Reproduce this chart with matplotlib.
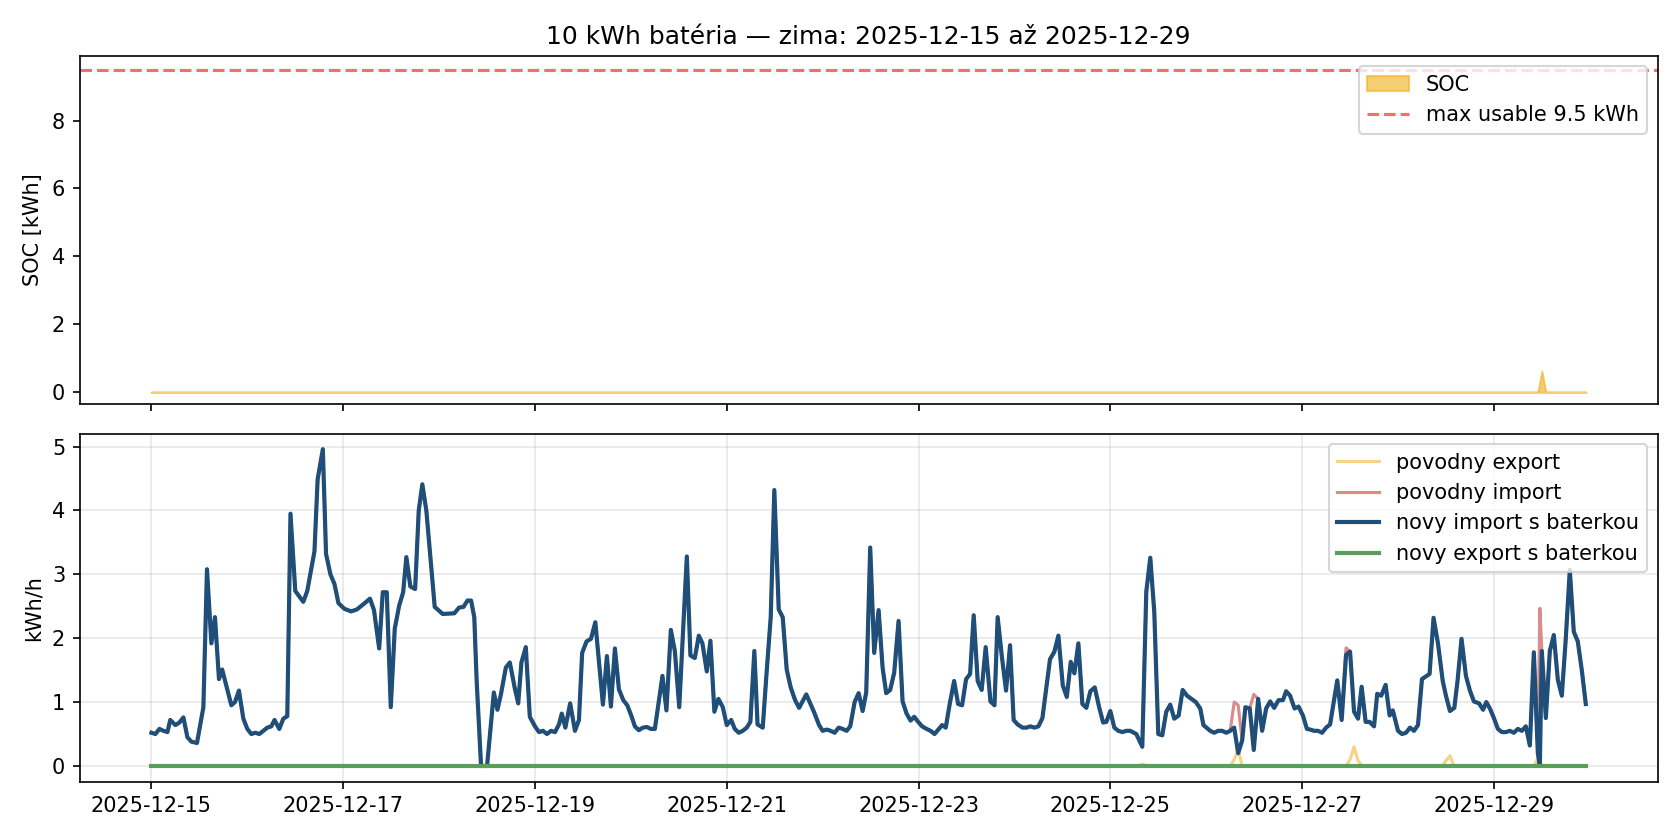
import matplotlib
matplotlib.use('Agg')
import numpy as np
import pandas as pd
import matplotlib.pyplot as plt
import matplotlib.dates as mdates

start = pd.Timestamp('2025-12-15 00:00')

# novy import s baterkou: (hour from start, kWh/h)
imp_h = [0, 1, 2, 3, 4, 4.7, 6, 7, 8, 9, 10, 11.4, 13, 13.9, 15, 15.9, 16.9, 17.7, 20, 20.9, 21.9, 23,
         24, 25, 26, 27, 28, 29, 30, 30.8, 32, 33, 34, 34.8, 36, 38, 39, 40.8, 41.6, 42.9, 43.7, 44.8,
         45.8, 46.8, 48.3, 50, 51.4, 53.2, 54.7, 55.7, 57, 57.9, 58.9, 59.9, 60.9, 62, 63, 63.8, 64.8,
         66, 66.9, 67.8, 68.8, 70.9, 72.9, 75.8, 77, 78.1, 79.1, 80, 80.8, 81.4, 82.5, 84, 85.7, 86.6,
         87.5, 88.7, 89.7, 90.9, 91.8, 92.6, 93.7, 94.7, 96, 97, 98, 99, 100, 101, 102, 102.7, 103.6,
         104.8, 106, 107, 107.8, 108.9, 110, 111.1, 113, 114, 115, 116, 117, 118.1, 119.1, 120.2, 121,
         122, 123, 124, 125, 126, 127.9, 128.9, 130, 131, 132.1, 134, 134.9, 136, 137, 137.9, 139,
         139.9, 140.9, 141.9, 143, 144, 145.1, 146, 147, 148, 149, 149.9, 150.9, 151.7, 153, 154, 155,
         155.9, 157, 158, 159, 160, 161.1, 162.1, 163.9, 165.8, 167.1, 168, 169, 170, 171, 172, 173,
         174, 174.9, 176, 177, 178, 178.9, 179.9, 180.9, 182, 183, 183.9, 184.9, 185.9, 187, 188, 189,
         190, 190.9, 191.9, 192.9, 194, 195, 196, 197.9, 198.8, 199.8, 200.9, 201.9, 202.9, 203.9,
         204.9, 205.8, 206.8, 207.8, 208.8, 210, 211, 211.8, 212.8, 213.9, 214.9, 215.8, 216.8, 218,
         219, 220, 221, 222, 223, 224.9, 226, 227, 228.1, 229.1, 230.1, 231, 232, 233, 234, 235, 236.1,
         237.2, 238.2, 239, 240, 241, 242, 243, 244, 245, 246.5, 248, 249, 250, 251, 252, 253, 254,
         255, 256, 257.1, 258.1, 259.2, 260.3, 261.4, 262.5, 263.3, 265, 266, 267, 268, 269, 270, 271,
         272, 273, 273.8, 274.9, 275.9, 277, 278, 279, 280, 281, 282.1, 283.2, 284, 285, 286.1, 287.1,
         288.2, 289.2, 290, 291, 292, 293, 294, 295, 296.8, 297.9, 299, 300, 301, 302, 302.9, 303.9,
         304.9, 306, 306.8, 307.8, 308.9, 309.9, 310.7, 311.7, 312, 313, 314, 315, 316, 317, 318,
         319.9, 320.9, 322, 323.2, 324, 325, 326.1, 326.9, 327.9, 329, 330, 331, 332.3, 333.3, 334.1,
         335, 336, 337, 338, 339, 340, 341, 342, 343, 344, 345, 346, 347, 347.5, 348, 349, 350, 351,
         352, 353, 354, 355, 356, 357, 358, 359]
imp_v = [0.52, 0.5, 0.58, 0.55, 0.53, 0.72, 0.64, 0.68, 0.76, 0.45, 0.38, 0.36, 0.92, 3.08, 1.92,
         2.33, 1.36, 1.51, 0.95, 1.0, 1.18, 0.74, 0.58, 0.5, 0.52, 0.5, 0.55, 0.6, 0.62, 0.72, 0.58,
         0.74, 0.78, 3.95, 2.74, 2.57, 2.74, 3.36, 4.49, 4.96, 3.32, 3.0, 2.85, 2.55, 2.46, 2.42, 2.45,
         2.54, 2.62, 2.44, 1.84, 2.72, 2.72, 0.92, 2.15, 2.51, 2.72, 3.27, 2.81, 2.77, 4.0, 4.41, 4.0,
         2.49, 2.38, 2.39, 2.48, 2.49, 2.59, 2.59, 2.33, 1.33, 0.0, 0.0, 1.15, 0.88, 1.13, 1.54, 1.62,
         1.23, 0.98, 1.62, 1.86, 0.77, 0.62, 0.53, 0.55, 0.5, 0.55, 0.53, 0.65, 0.82, 0.6, 0.98, 0.55,
         0.72, 1.77, 1.95, 1.99, 2.25, 0.96, 1.72, 0.93, 1.84, 1.2, 1.03, 0.95, 0.77, 0.62, 0.56, 0.6,
         0.61, 0.58, 0.58, 1.41, 0.87, 2.13, 1.8, 0.92, 3.28, 1.73, 1.69, 2.04, 1.92, 1.48, 1.96, 0.85,
         1.05, 0.92, 0.64, 0.72, 0.58, 0.52, 0.55, 0.6, 0.69, 1.8, 0.65, 0.6, 1.49, 2.33, 4.32, 2.45,
         2.33, 1.51, 1.23, 1.03, 0.91, 1.12, 0.85, 0.64, 0.55, 0.57, 0.55, 0.52, 0.6, 0.58, 0.55, 0.62,
         1.0, 1.14, 0.86, 1.15, 3.42, 1.77, 2.44, 1.54, 1.14, 1.19, 1.46, 2.27, 1.01, 0.82, 0.71, 0.77,
         0.69, 0.62, 0.58, 0.55, 0.5, 0.64, 0.6, 0.97, 1.33, 0.97, 0.95, 1.36, 1.44, 2.36, 1.33, 1.19,
         1.86, 1.01, 0.95, 2.33, 1.74, 1.18, 1.89, 0.72, 0.65, 0.6, 0.6, 0.62, 0.6, 0.62, 0.75, 1.67,
         1.79, 2.04, 1.26, 1.08, 1.63, 1.45, 1.92, 0.97, 0.91, 1.17, 1.23, 0.92, 0.68, 0.69, 0.86, 0.6,
         0.55, 0.53, 0.55, 0.55, 0.5, 0.3, 2.73, 3.26, 2.41, 0.5, 0.48, 0.85, 0.96, 0.74, 0.79, 1.19,
         1.1, 1.05, 1.0, 0.9, 0.64, 0.55, 0.52, 0.55, 0.55, 0.52, 0.55, 0.6, 0.2, 0.4, 0.92, 0.9, 0.25,
         1.05, 0.55, 0.9, 1.01, 0.91, 1.03, 1.03, 1.17, 1.1, 0.9, 0.93, 0.79, 0.58, 0.57, 0.55, 0.55,
         0.52, 0.6, 0.65, 1.34, 0.72, 1.74, 1.79, 0.85, 0.74, 1.24, 0.69, 0.69, 0.62, 1.13, 1.1, 1.27,
         0.79, 0.87, 0.62, 0.55, 0.5, 0.52, 0.6, 0.55, 0.64, 1.36, 1.44, 2.32, 1.92, 1.33, 1.1, 0.86,
         0.91, 1.33, 1.99, 1.41, 1.18, 1.01, 0.98, 0.88, 1.0, 0.9, 0.75, 0.58, 0.53, 0.53, 0.55, 0.52,
         0.58, 0.55, 0.62, 0.32, 1.78, 0.2, 0.0, 1.8, 0.75, 1.8, 2.05, 1.35, 1.1, 2.0, 3.07, 2.1, 1.95,
         1.5, 0.97]

# povodny import differs only at a few hours (where the battery covered the load)
orig_imp_extra = {271: 1.0, 272: 0.95, 275.9: 1.12, 299: 1.85, 347.5: 2.47}

# povodny export (small midday surpluses)
exp_h = [0, 247, 248, 249, 270, 271, 272, 273, 299, 300, 301, 302, 303, 323, 324, 325, 326, 346,
         347, 348, 359]
exp_v = [0, 0, 0.03, 0, 0, 0.1, 0.25, 0, 0, 0.1, 0.3, 0.08, 0, 0, 0.08, 0.16, 0, 0, 0.12, 0, 0]

# SOC of the battery
soc_h = [0, 347, 348, 349, 359]
soc_v = [0, 0, 0.62, 0, 0]

imp_t = start + pd.to_timedelta(imp_h, unit='h')
orig_imp = [orig_imp_extra.get(h, v) for h, v in zip(imp_h, imp_v)]
exp_t = start + pd.to_timedelta(exp_h, unit='h')
soc_t = start + pd.to_timedelta(soc_h, unit='h')

fig, (ax1, ax2) = plt.subplots(2, 1, figsize=(11.2, 5.6), sharex=True)

ax1.fill_between(soc_t, soc_v, color='#f0b429', alpha=0.65, label='SOC')
ax1.axhline(9.5, color='#f07070', linestyle='--', linewidth=1.5, label='max usable 9.5 kWh')
ax1.set_ylabel('SOC [kWh]')
ax1.set_ylim(-0.35, 9.9)
ax1.set_yticks([0, 2, 4, 6, 8])
ax1.legend(loc='upper right')
ax1.set_title('10 kWh batéria — zima: 2025-12-15 až 2025-12-29', fontsize=12)

ax2.plot(exp_t, exp_v, color='#f9d28a', linewidth=1.5, label='povodny export')
ax2.plot(imp_t, orig_imp, color='#d98c8c', linewidth=1.5, label='povodny import')
ax2.plot(imp_t, imp_v, color='#1f4e79', linewidth=2, label='novy import s baterkou')
ax2.plot(imp_t, np.zeros(len(imp_t)), color='#5a9e5a', linewidth=2, label='novy export s baterkou')
ax2.set_ylabel('kWh/h')
ax2.set_ylim(-0.25, 5.2)
ax2.grid(alpha=0.3)
ax2.legend(loc='upper right')

ax2.xaxis.set_major_locator(mdates.DayLocator(interval=2))
ax2.xaxis.set_major_formatter(mdates.DateFormatter('%Y-%m-%d'))

plt.tight_layout()
plt.savefig('out.png', dpi=150)
